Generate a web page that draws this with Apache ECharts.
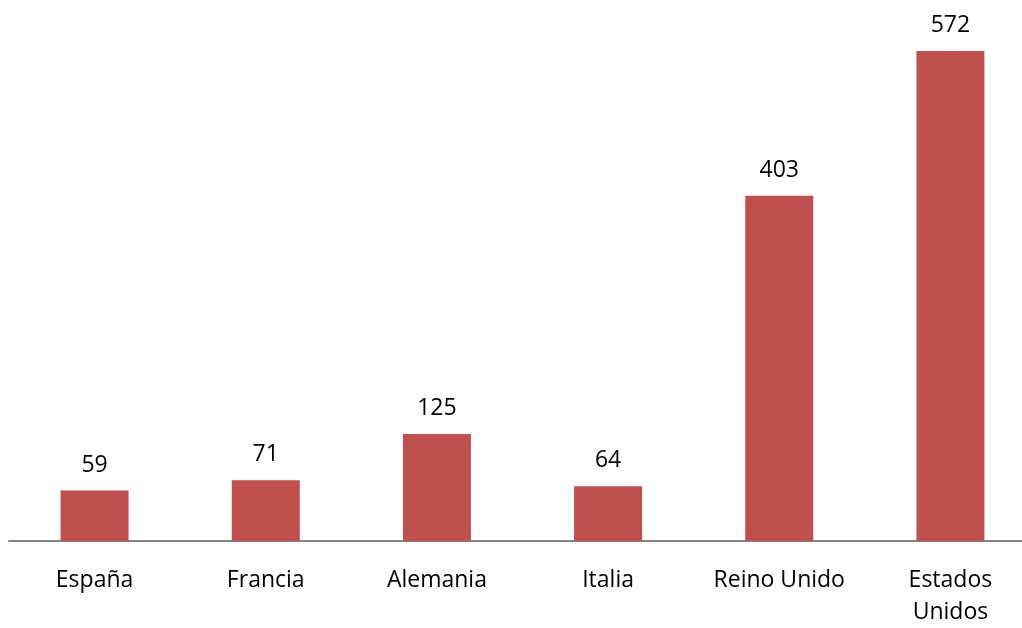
<!DOCTYPE html>
<html>
<head>
<meta charset="utf-8">
<style>html,body{margin:0;padding:0;background:#fff;overflow:hidden}#c{width:1036px;height:628px}</style>
<script src="https://cdn.jsdelivr.net/npm/echarts@6/dist/echarts.min.js"></script>
</head>
<body>
<div id="c"></div>
<script>
const categories = ['España', 'Francia', 'Alemania', 'Italia', 'Reino Unido', 'Estados Unidos'];
const values = [59, 71, 125, 64, 403, 572];

const chart = echarts.init(document.getElementById('c'), null, {renderer: 'canvas'});
chart.setOption({
  animation: false,
  backgroundColor: '#ffffff',
  grid: {left: 9, top: 27, right: 0, bottom: 87, containLabel: false},
  xAxis: {
    type: 'category',
    data: categories,
    axisLine: {show: true, lineStyle: {color: '#868686', width: 2}},
    axisTick: {show: false},
    axisLabel: {
      color: '#000', fontFamily: 'Open Sans', fontSize: 23, margin: 23, lineHeight: 32,
      interval: 0,
      formatter: v => v === 'Estados Unidos' ? 'Estados\nUnidos' : v
    }
  },
  yAxis: {type: 'value', min: 0, max: 600, show: false, splitLine: {show: false}},
  series: [{
    type: 'bar',
    data: values,
    barWidth: 68,
    itemStyle: {color: '#C0504D'},
    label: {show: true, position: 'top', distance: 14, color: '#000', fontFamily: 'Open Sans', fontSize: 23}
  }]
});
</script>
</body>
</html>
